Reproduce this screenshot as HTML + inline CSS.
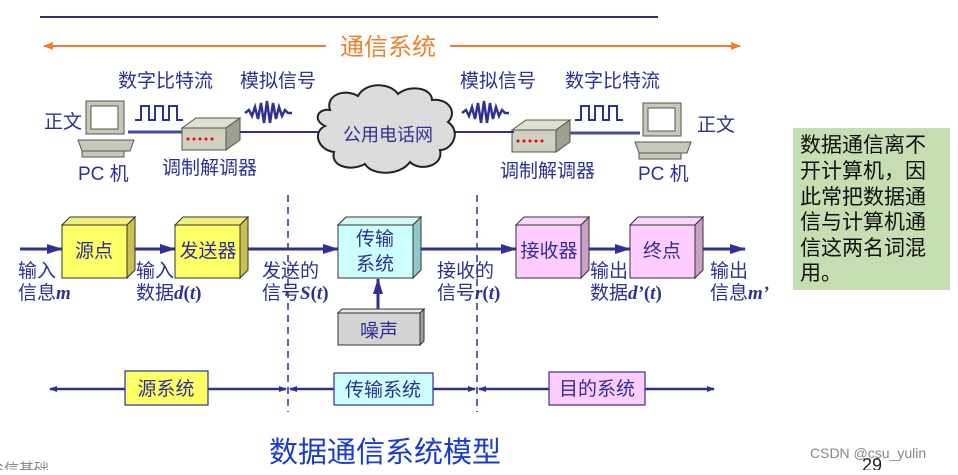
<!DOCTYPE html>
<html><head><meta charset="utf-8"><style>
body{margin:0;background:#fff;width:958px;height:470px;overflow:hidden}
text{font-family:"Liberation Sans","Noto Sans CJK SC",sans-serif}
</style></head><body>
<svg width="958" height="470" viewBox="0 0 958 470" xmlns="http://www.w3.org/2000/svg">
<defs>
<marker id="as" markerWidth="16" markerHeight="10" refX="15" refY="5" orient="auto" markerUnits="userSpaceOnUse"><path d="M0,0 L16,5 L0,10 z" fill="#2e3192"/></marker>
<marker id="ao" markerWidth="10" markerHeight="8" refX="9" refY="4" orient="auto-start-reverse" markerUnits="userSpaceOnUse"><path d="M0,0 L10,4 L0,8 z" fill="#f08030"/></marker>
<marker id="ab" markerWidth="8" markerHeight="6" refX="7" refY="3" orient="auto-start-reverse" markerUnits="userSpaceOnUse"><path d="M0,0 L8,3 L0,6 z" fill="#2e3192"/></marker>
</defs>
<line x1="40" y1="17" x2="658" y2="17" stroke="#3a2a7a" stroke-width="2"/>
<line x1="44" y1="46" x2="326" y2="46" stroke="#f08030" stroke-width="2" marker-start="url(#ao)"/>
<line x1="450" y1="46" x2="740" y2="46" stroke="#f08030" stroke-width="2" marker-end="url(#ao)"/>
<text x="388" y="55" font-size="24" fill="#f08030" text-anchor="middle">通信系统</text>
<g fill="#2e3192" font-size="19">
<text x="118" y="87">数字比特流</text><text x="240" y="87">模拟信号</text>
<text x="460" y="87">模拟信号</text><text x="565" y="87">数字比特流</text>
<text x="44" y="128">正文</text><text x="78" y="180">PC 机</text>
<text x="162" y="174">调制解调器</text>
<text x="697" y="131">正文</text><text x="638" y="180">PC 机</text>
<text x="500" y="177">调制解调器</text>
</g>
<g><rect x="86" y="101" width="38" height="33" fill="#c8c8b8" stroke="#555"/><rect x="91" y="106" width="27" height="23" fill="#fff" stroke="#555"/>
<polygon points="78,140 134,140 130,151 82,151" fill="#c8c8b8" stroke="#555"/><rect x="82" y="151" width="42" height="6" fill="#c8c8b8" stroke="#555"/></g>
<line x1="128" y1="132" x2="184" y2="132" stroke="#4a4aa0" stroke-width="3"/>
<g><rect x="643" y="103" width="38" height="33" fill="#c8c8b8" stroke="#555"/><rect x="648" y="108" width="27" height="23" fill="#fff" stroke="#555"/>
<polygon points="635,142 691,142 687,153 639,153" fill="#c8c8b8" stroke="#555"/><rect x="639" y="153" width="42" height="6" fill="#c8c8b8" stroke="#555"/></g>
<line x1="568" y1="133" x2="640" y2="133" stroke="#4a4aa0" stroke-width="3"/>
<g><polygon points="182,128 196,118 240,118 226,128" fill="#e0e0d0" stroke="#555"/><rect x="182" y="128" width="44" height="22" fill="#d0d0c0" stroke="#555"/><polygon points="226,128 240,118 240,140 226,150" fill="#a0a090" stroke="#555"/>
<g fill="#e00"><circle cx="188" cy="139" r="1.5"/><circle cx="194" cy="139" r="1.5"/><circle cx="200" cy="139" r="1.5"/><circle cx="206" cy="139" r="1.5"/><circle cx="212" cy="139" r="1.5"/></g></g>
<g><polygon points="512,130 526,120 570,120 556,130" fill="#e0e0d0" stroke="#555"/><rect x="512" y="130" width="44" height="22" fill="#d0d0c0" stroke="#555"/><polygon points="556,130 570,120 570,142 556,152" fill="#a0a090" stroke="#555"/>
<g fill="#e00"><circle cx="518" cy="141" r="1.5"/><circle cx="524" cy="141" r="1.5"/><circle cx="530" cy="141" r="1.5"/><circle cx="536" cy="141" r="1.5"/><circle cx="542" cy="141" r="1.5"/></g></g>
<path d="M135,120 h6 v-14 h8 v14 h6 v-14 h8 v14 h6 v-14 h8 v14 h6" fill="none" stroke="#2e3192" stroke-width="2"/>
<path d="M575,120 h6 v-14 h8 v14 h6 v-14 h8 v14 h6 v-14 h8 v14 h6" fill="none" stroke="#2e3192" stroke-width="2"/>
<path d="M245,113 l4,-3 3,6 3,-9 3,12 3,-16 3,20 3,-22 3,22 3,-20 3,16 3,-12 3,9 3,-6 3,3 4,0" fill="none" stroke="#2e3192" stroke-width="2.5"/>
<path d="M462,113 l4,-3 3,6 3,-9 3,12 3,-16 3,20 3,-22 3,22 3,-20 3,16 3,-12 3,9 3,-6 3,3 4,0" fill="none" stroke="#2e3192" stroke-width="2.5"/>
<line x1="240" y1="132" x2="322" y2="132" stroke="#2e3192" stroke-width="2"/>
<line x1="452" y1="132" x2="514" y2="132" stroke="#2e3192" stroke-width="2"/>
<path d="M330,110 C325,95 345,88 358,96 C365,82 390,82 398,94 C410,84 432,88 432,100 C448,98 458,112 448,122 C462,132 452,150 440,150 C444,166 420,172 410,162 C400,176 372,176 365,164 C350,172 330,166 334,152 C318,150 312,132 325,126 C312,120 318,108 330,110 Z" fill="#dcdcdc" stroke="#222" stroke-width="2"/>
<text x="388" y="141" font-size="18" fill="#2e3192" text-anchor="middle">公用电话网</text>
<rect x="793" y="128" width="157" height="162" fill="#c5dfb3"/>
<g font-size="21" fill="#111"><text x="800" y="152">数据通信离不</text><text x="800" y="178">开计算机，因</text><text x="800" y="204">此常把数据通</text><text x="800" y="229">信与计算机通</text><text x="800" y="255">信这两名词混</text><text x="800" y="280">用。</text></g>
<line x1="288" y1="195" x2="288" y2="412" stroke="#2e3192" stroke-width="1.5" stroke-dasharray="7,5"/>
<line x1="477" y1="195" x2="477" y2="412" stroke="#2e3192" stroke-width="1.5" stroke-dasharray="7,5"/>
<g stroke="#2e3192" stroke-width="3">
<line x1="20" y1="249" x2="62" y2="249" marker-end="url(#as)"/>
<line x1="135" y1="249" x2="175" y2="249" marker-end="url(#as)"/>
<line x1="248" y1="249" x2="338" y2="249" marker-end="url(#as)"/>
<line x1="421" y1="249" x2="516" y2="249" marker-end="url(#as)"/>
<line x1="589" y1="249" x2="630" y2="249" marker-end="url(#as)"/>
<line x1="703" y1="249" x2="745" y2="249" marker-end="url(#as)"/>
<line x1="378" y1="310" x2="378" y2="279" marker-end="url(#as)"/>
</g>
<g stroke="#333" stroke-width="1">
<polygon points="62,225 70,217 135,217 127,225" fill="#f0f080"/><polygon points="127,225 135,217 135,270 127,278" fill="#c8c050"/><rect x="62" y="225" width="65" height="53" fill="#ffff66"/>
<polygon points="175,225 183,217 248,217 240,225" fill="#f0f080"/><polygon points="240,225 248,217 248,270 240,278" fill="#c8c050"/><rect x="175" y="225" width="65" height="53" fill="#ffff66"/>
<polygon points="338,225 346,217 421,217 413,225" fill="#d8f8f8"/><polygon points="413,225 421,217 421,270 413,278" fill="#90c8c8"/><rect x="338" y="225" width="75" height="53" fill="#ccffff"/>
<polygon points="516,225 524,217 589,217 581,225" fill="#f8d8f8"/><polygon points="581,225 589,217 589,270 581,278" fill="#c8a0c8"/><rect x="516" y="225" width="65" height="53" fill="#ffccff"/>
<polygon points="630,225 638,217 703,217 695,225" fill="#f8d8f8"/><polygon points="695,225 703,217 703,270 695,278" fill="#c8a0c8"/><rect x="630" y="225" width="65" height="53" fill="#ffccff"/>
<polygon points="338,313 342,309 424,309 420,313" fill="#e8e8e8"/><polygon points="420,313 424,309 424,341 420,345" fill="#a0a0a0"/><rect x="338" y="313" width="82" height="32" fill="#d4d4d4"/>
</g>
<g fill="#2e3192" font-size="19">
<text x="94" y="257" text-anchor="middle">源点</text>
<text x="208" y="257" text-anchor="middle">发送器</text>
<text x="375" y="245" text-anchor="middle">传输</text><text x="375" y="270" text-anchor="middle">系统</text>
<text x="549" y="257" text-anchor="middle">接收器</text>
<text x="662" y="257" text-anchor="middle">终点</text>
<text x="379" y="337" text-anchor="middle">噪声</text>
<text x="18" y="277">输入</text><text x="18" y="299">信息<tspan font-family="Liberation Serif" font-style="italic" font-weight="bold">m</tspan></text>
<text x="136" y="277">输入</text><text x="136" y="299">数据<tspan font-family="Liberation Serif" font-style="italic" font-weight="bold">d</tspan><tspan font-family="Liberation Serif" font-weight="bold">(<tspan font-style="italic">t</tspan>)</tspan></text>
<text x="262" y="277">发送的</text><text x="262" y="299">信号<tspan font-family="Liberation Serif" font-style="italic" font-weight="bold">S</tspan><tspan font-family="Liberation Serif" font-weight="bold">(<tspan font-style="italic">t</tspan>)</tspan></text>
<text x="437" y="277">接收的</text><text x="437" y="299">信号<tspan font-family="Liberation Serif" font-style="italic" font-weight="bold">r</tspan><tspan font-family="Liberation Serif" font-weight="bold">(<tspan font-style="italic">t</tspan>)</tspan></text>
<text x="590" y="277">输出</text><text x="590" y="299">数据<tspan font-family="Liberation Serif" font-style="italic" font-weight="bold">d’</tspan><tspan font-family="Liberation Serif" font-weight="bold">(<tspan font-style="italic">t</tspan>)</tspan></text>
<text x="710" y="277">输出</text><text x="710" y="299">信息<tspan font-family="Liberation Serif" font-style="italic" font-weight="bold">m’</tspan></text>
</g>
<g stroke="#2e3192" stroke-width="2.5">
<line x1="50" y1="389" x2="286" y2="389" marker-start="url(#ab)" marker-end="url(#ab)"/>
<line x1="290" y1="389" x2="475" y2="389" marker-start="url(#ab)" marker-end="url(#ab)"/>
<line x1="479" y1="389" x2="714" y2="389" marker-start="url(#ab)" marker-end="url(#ab)"/>
</g>
<g stroke="#2e3192" stroke-width="1.2">
<rect x="125" y="371" width="83" height="34" fill="#ffff66"/>
<rect x="334" y="373" width="99" height="32" fill="#ccffff"/>
<rect x="549" y="372" width="96" height="33" fill="#ffccff"/>
</g>
<g fill="#2e3192" font-size="19">
<text x="166" y="395" text-anchor="middle">源系统</text>
<text x="383" y="396" text-anchor="middle">传输系统</text>
<text x="597" y="395" text-anchor="middle">目的系统</text>
</g>
<text x="385" y="462" font-size="29" fill="#1a3ad0" text-anchor="middle">数据通信系统模型</text>
<text x="810" y="458" font-size="14" fill="#888">CSDN @csu_yulin</text>
<text x="862" y="471" font-size="18" font-family="Liberation Serif" fill="#222">29</text>
<text x="-6" y="474" font-size="15" fill="#888">S信基础</text>
</svg>
</body></html>
